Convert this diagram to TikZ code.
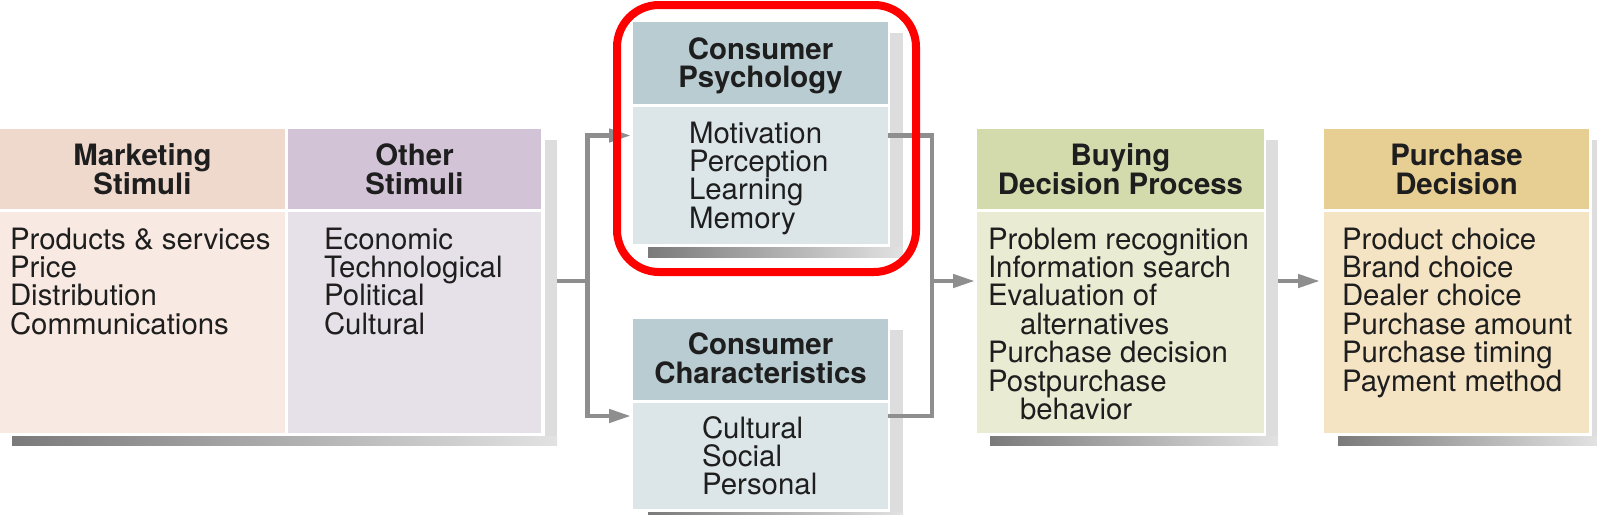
\documentclass[tikz,border=0pt]{standalone}
\usepackage{fontspec}
\setmainfont{TeX Gyre Heros}
\usetikzlibrary{arrows.meta,calc}
\definecolor{mkH}{HTML}{EFD9CD}
\definecolor{mkB}{HTML}{F8EAE2}
\definecolor{otH}{HTML}{D2C3D6}
\definecolor{otB}{HTML}{E6E0E8}
\definecolor{csH}{HTML}{B8CCD2}
\definecolor{csB}{HTML}{DCE5E8}
\definecolor{byH}{HTML}{D3DBAD}
\definecolor{byB}{HTML}{E9EBD3}
\definecolor{puH}{HTML}{E7CE93}
\definecolor{puB}{HTML}{F4E4C4}
\definecolor{conngray}{HTML}{8E8E8E}
\definecolor{txt}{HTML}{1E1E1E}
\definecolor{shdark}{HTML}{7A7A7A}
\definecolor{shlight}{HTML}{E2E2E2}
\definecolor{shbar}{HTML}{DDDDDD}
\definecolor{hilite}{HTML}{FF0000}
\tikzset{
  panel/.style={draw=none, inner sep=0pt, outer sep=0pt, anchor=north west},
  htxt/.style={inner sep=0pt, outer sep=0pt, anchor=base, text=txt,
    font=\fontsize{29.4}{28.6}\selectfont\bfseries},
  btxt/.style={inner sep=0pt, outer sep=0pt, anchor=base west, text=txt,
    font=\fontsize{29.4}{28.4}\selectfont},
  link/.style={draw=conngray, line width=4.5pt},
  arr/.style={link, -{Triangle[length=22pt,width=13pt]}},
  rightbar/.style={fill=shbar},
  botbar/.style={left color=shdark, right color=shlight}
}
\newcommand{\lst}[2]{\parbox[t]{#1}{\raggedright #2}}
\newcommand{\ctr}[1]{\parbox[t]{300pt}{\centering #1}}
\begin{document}
\begin{tikzpicture}[x=1pt,y=-1pt]
\useasboundingbox (0,0) rectangle (1597,514);
% ---- shadows
\fill[rightbar] (545,140) rectangle (557,445);
\shade[botbar] (12,436) rectangle (557,445);
\fill[rightbar] (890,33) rectangle (903,257);
\shade[botbar] (648,247) rectangle (903,257);
\fill[rightbar] (890,330) rectangle (903,514);
\shade[botbar] (648,512) rectangle (903,518);
\fill[rightbar] (1266,140) rectangle (1278,445);
\shade[botbar] (990,436) rectangle (1278,445);
\fill[rightbar] (1592,140) rectangle (1597,445);
\shade[botbar] (1338,436) rectangle (1597,445);
% ---- panels
\node[panel, fill=mkH, minimum width=285, minimum height=80] (mkh) at (0,129) {};
\node[panel, fill=mkB, minimum width=285, minimum height=221] (mkb) at (0,212) {};
\node[panel, fill=otH, minimum width=253, minimum height=80] (oth) at (288,129) {};
\node[panel, fill=otB, minimum width=253, minimum height=221] (otb) at (288,212) {};
\node[panel, fill=csH, minimum width=255, minimum height=82] (psh) at (633,22) {};
\node[panel, fill=csB, minimum width=255, minimum height=137] (psb) at (633,107) {};
\node[panel, fill=csH, minimum width=255, minimum height=81] (chh) at (633,319) {};
\node[panel, fill=csB, minimum width=255, minimum height=106] (chb) at (633,403) {};
\node[panel, fill=byH, minimum width=287, minimum height=80] (byh) at (977,129) {};
\node[panel, fill=byB, minimum width=287, minimum height=221] (byb) at (977,212) {};
\node[panel, fill=puH, minimum width=265, minimum height=80] (puh) at (1324,129) {};
\node[panel, fill=puB, minimum width=265, minimum height=221] (pub) at (1324,212) {};
% ---- headings
\node[htxt] (mkht) at ($(mkh.north)+(0,36.5)$) {\ctr{Marketing\\Stimuli}};
\node[htxt] (otht) at ($(oth.north)+(0,36.5)$) {\ctr{Other\\Stimuli}};
\node[htxt] (psht) at ($(psh.north)+(0,37)$) {\ctr{Consumer\\Psychology}};
\node[htxt] (chht) at ($(chh.north)+(0,35.5)$) {\ctr{Consumer\\Characteristics}};
\node[htxt] (byht) at ($(byh.north)+(0,36.5)$) {\ctr{Buying\\Decision Process}};
\node[htxt] (puht) at ($(puh.north)+(0,36.5)$) {\ctr{Purchase\\Decision}};
% ---- texts
\node[btxt] (mkt) at (10,249) {\lst{275pt}{Products \& services\\Price\\Distribution\\Communications}};
\node[btxt] (ott) at (324,249) {\lst{215pt}{Economic\\Technological\\Political\\Cultural}};
\node[btxt] (pst) at (689,143) {\lst{190pt}{Motivation\\Perception\\Learning\\Memory}};
\node[btxt] (cht) at (702,438) {\lst{180pt}{Cultural\\Social\\Personal}};
\node[btxt] (byt) at (988,249) {\lst{275pt}{Problem recognition\\Information search\\Evaluation of\\\hspace*{32pt}alternatives\\Purchase decision\\Postpurchase\\\hspace*{32pt}behavior}};
\node[btxt] (put) at (1342,249) {\lst{250pt}{Product choice\\Brand choice\\Dealer choice\\Purchase amount\\Purchase timing\\Payment method}};
% ---- connectors
\coordinate (src) at (557,281);
\coordinate (split) at (587.5,281);
\coordinate (splitT) at (587.5,135.5);
\coordinate (splitB) at (587.5,416);
\coordinate (merge) at (932,281);
\coordinate (mergeT) at (932,135.5);
\coordinate (mergeB) at (932,416);
\draw[link] (src) -- (split);
\draw[link, line cap=butt] ($(splitT)+(0,-2.25)$) -- ($(splitB)+(0,2.25)$);
\draw[arr] ($(splitT)+(-2.25,0)$) -- ($(splitT -| psb.west)+(-2,0)$);
\draw[arr] ($(splitB)+(-2.25,0)$) -- ($(splitB -| chb.west)+(-2,0)$);
\draw[link] (mergeT -| psb.east) -- ($(mergeT)+(2.25,0)$);
\draw[link] ($(mergeT)+(0,-2.25)$) -- ($(mergeB)+(0,2.25)$);
\draw[link] (mergeB -| chb.east) -- ($(mergeB)+(2.25,0)$);
\draw[arr] (merge) -- ($(merge -| byb.west)+(-2,0)$);
\draw[arr] (1278,281) -- ($(pub.west |- 0,281)+(-4,0)$);
% ---- highlight
\draw[hilite, line width=8pt, rounded corners=42pt] (617,5) rectangle (916,272);
\end{tikzpicture}
\end{document}
